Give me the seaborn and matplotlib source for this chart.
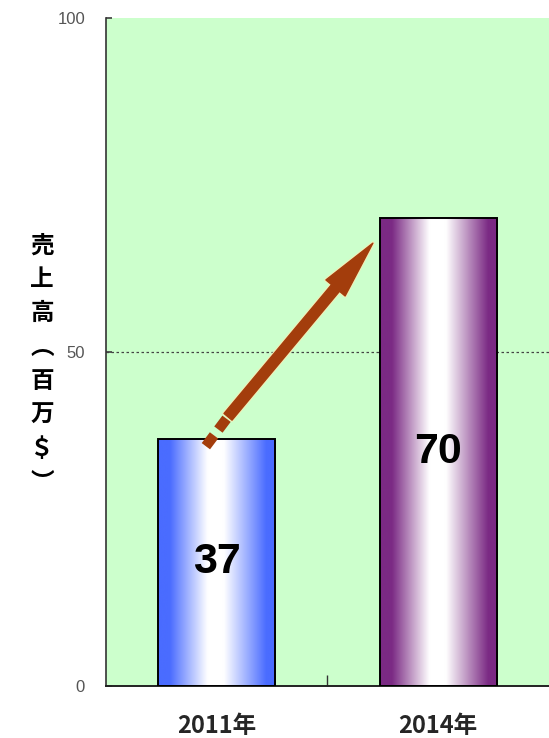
import numpy as np
import pandas as pd
import matplotlib
matplotlib.use("Agg")
import matplotlib.pyplot as plt
import matplotlib.patheffects as pe
from matplotlib.colors import LinearSegmentedColormap
from matplotlib.patches import FancyArrowPatch
import seaborn as sns

# --- data -------------------------------------------------------------
years = ["2011年", "2014年"]
sales = [37, 70]
y_ticks = [0, 50, 100]
y_label = "売上高︵百万＄︶"

sns.set_theme(style="white")
plt.rcParams["font.family"] = ["Noto Sans CJK JP", "DejaVu Sans"]

df = pd.DataFrame({"year": years, "sales": sales})

fig = plt.figure(figsize=(5.49, 7.38), dpi=100)
ax = fig.add_axes([0.193, 0.0705, 0.807, 0.905])
ax.set_facecolor("#ccffcc")

sns.barplot(data=df, x="year", y="sales", ax=ax, width=0.53,
            color="white", edgecolor="black", linewidth=1.4, zorder=3)

ax.set_xlim(-0.5, 1.5)
ax.set_ylim(0, 100)

# cylinder-like horizontal gradients inside each bar
edge_cols = ["#4a6cff", "#7b2a84"]
for patch, ec in zip(ax.patches, edge_cols):
    cmap = LinearSegmentedColormap.from_list(
        "g", [(0.0, ec), (0.1, ec), (0.42, "#ffffff"), (0.56, "#ffffff"),
              (0.92, ec), (1.0, ec)])
    x0, y0 = patch.get_x(), patch.get_y()
    w, h = patch.get_width(), patch.get_height()
    grad = np.linspace(0, 1, 256).reshape(1, -1)
    im = ax.imshow(grad, cmap=cmap, aspect="auto", extent=[x0, x0 + w, y0, y0 + h],
                   zorder=2.5, interpolation="bicubic")
    im.set_clip_path(patch)
    patch.set_facecolor("none")

# value labels inside the bars
for i, v in enumerate(sales):
    ax.text(i, v / 2, f"{v}", ha="center", va="center", fontsize=31,
            fontweight="bold", family=["Liberation Sans", "DejaVu Sans"],
            color="black", zorder=5)

# growth arrow between the bars
arrow_color = "#a33d0c"
halo = [pe.withStroke(linewidth=3, foreground="#f2efb8")]
tail = [(-0.049, 35.9), (0.051, 40.3)]
tip = (0.705, 66.3)
ax.plot([tail[0][0], tail[1][0]], [tail[0][1], tail[1][1]], color=arrow_color,
        lw=7.5, dashes=(1.3, 0.7), solid_capstyle="butt", zorder=4,
        path_effects=halo)
arr = FancyArrowPatch(tail[1], tip, arrowstyle="simple,head_length=42,head_width=18,tail_width=7.5",
                      mutation_scale=1, color=arrow_color, zorder=4,
                      shrinkA=0, shrinkB=0)
arr.set_path_effects([pe.withStroke(linewidth=2.5, foreground="#f2efb8")])
ax.add_patch(arr)

# axes styling
ax.set_yticks(y_ticks)
ax.set_yticklabels([str(t) for t in y_ticks], family="Liberation Sans", fontsize=12,
                   color="#555555")
ax.yaxis.grid(False)
ax.axhline(50, color="#444444", lw=0.9, ls=(0, (2, 2)), zorder=1)
ax.tick_params(axis="y", direction="in", length=4, pad=15, left=True, color="#444444")
ax.set_xticks([0, 1])
ax.set_xticklabels(years, fontsize=17, fontweight="bold")
ax.tick_params(axis="x", length=0, pad=20)
ax.set_xticks([0.5], minor=True)
ax.tick_params(axis="x", which="minor", direction="in", length=8, bottom=True,
               color="#333333")
ax.set_xlabel("")
ax.set_ylabel("")

for s in ["top", "right"]:
    ax.spines[s].set_visible(False)
ax.spines["left"].set_color("#333333")
ax.spines["left"].set_linewidth(1.2)
ax.spines["bottom"].set_color("#222222")
ax.spines["bottom"].set_linewidth(1.4)

# stacked vertical axis title
fig.text(42 / 549, 1 - 364 / 738, "\n".join(y_label), ha="center", va="center",
         fontsize=17, fontweight="bold", linespacing=1.52, color="black")

fig.savefig("out.png", dpi=100)
